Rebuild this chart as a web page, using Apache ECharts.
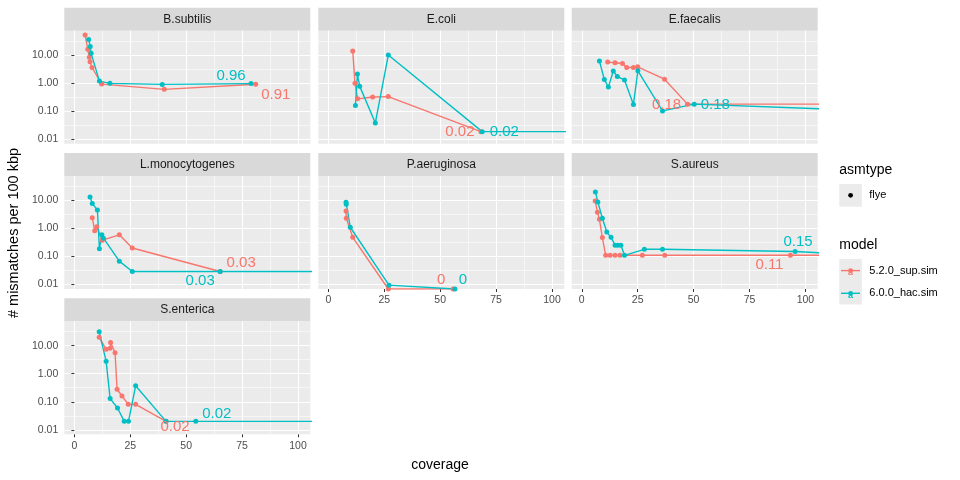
<!DOCTYPE html>
<html>
<head>
<meta charset="utf-8">
<script src="https://cdn.jsdelivr.net/npm/echarts@6/dist/echarts.min.js"></script>
<style>html,body{margin:0;padding:0;background:#fff}#main{width:960px;height:480px}</style>
</head>
<body>
<div id="main"></div>
<script>
const species = ['B.subtilis', 'E.coli', 'E.faecalis', 'L.monocytogenes', 'P.aeruginosa', 'S.aureus', 'S.enterica'];
const models = ['5.2.0_sup.sim', '6.0.0_hac.sim'];
const xTicks = [0, 25, 50, 75, 100];
const xMinor = [12.5, 37.5, 62.5, 87.5];
const yTicks = [0.01, 0.1, 1, 10];
const yMinor = [0.0316, 0.316, 3.16, 31.6];

// [coverage, mismatches per 100 kbp]
const bSubtilisSup = [[4.8, 52], [6.0, 16], [6.7, 8.3], [7.0, 5.8], [7.9, 3.6], [12.2, 0.92], [40.2, 0.6], [81.1, 0.91]];
const bSubtilisHac = [[6.4, 36], [7.1, 20], [7.5, 11.5], [11.2, 1.18], [15.9, 0.98], [39.3, 0.9], [79, 0.96]];
const eColiSup = [[10.9, 13.9], [11.9, 0.98], [13.1, 0.275], [19.8, 0.32], [26.8, 0.33], [68.2, 0.0186]];
const eColiHac = [[12.1, 0.158], [13.0, 2.1], [14.0, 0.78], [21.0, 0.038], [26.8, 10], [68.8, 0.0186], [140, 0.0186]];
const eFaecalisSup = [[11.6, 5.6], [14.9, 5.3], [18.2, 5.0], [20.1, 3.6], [23.1, 3.6], [25.0, 3.8], [37, 1.38], [47.3, 0.178], [150, 0.178]];
const eFaecalisHac = [[7.9, 6.1], [10.1, 1.35], [11.9, 0.72], [14.1, 2.7], [15.9, 1.73], [19.1, 1.28], [23.1, 0.174], [25.1, 2.75], [36.1, 0.102], [50.3, 0.178], [135, 0.1]];
const lMonoSup = [[8.0, 2.4], [9.1, 0.82], [10.0, 1.15], [12.5, 0.38], [20.1, 0.59], [25.9, 0.2], [65.2, 0.029]];
const lMonoHac = [[7.0, 13.1], [8.0, 7.8], [10.3, 4.5], [11.2, 0.19], [12.3, 0.6], [13.0, 0.45], [20.1, 0.068], [25.9, 0.029], [65.2, 0.029], [150, 0.029]];
const pAerSup = [[7.9, 4.2], [8.0, 2.3], [10.9, 0.48], [26.8, 0], [55.8, 0]];
const pAerHac = [[7.9, 8.5], [8.0, 7.3], [9.8, 1.1], [27.1, 0.0095], [56.6, 0]];
const sAureusSup = [[6.0, 9.4], [7.0, 3.8], [7.9, 2.1], [9.2, 0.47], [10.7, 0.11], [12.7, 0.11], [14.9, 0.11], [17.1, 0.11], [27.1, 0.11], [37.1, 0.11], [93.3, 0.11], [150, 0.11]];
const sAureusHac = [[6.1, 20], [7.2, 8.7], [9.2, 2.3], [11.2, 0.74], [13.1, 0.48], [14.9, 0.25], [16.1, 0.25], [17.5, 0.25], [19.1, 0.11], [28, 0.18], [36.1, 0.18], [95.4, 0.15], [120, 0.12]];
const sEntSup = [[11.1, 20], [14.2, 7.4], [16.0, 8], [16.2, 13], [18.2, 5.6], [19.1, 0.28], [21.3, 0.16], [24.1, 0.081], [27.4, 0.081], [41, 0.02]];
const sEntHac = [[11.1, 31], [14.2, 2.8], [16.0, 0.13], [19.3, 0.06], [22.3, 0.02], [24.2, 0.02], [27.4, 0.37], [41, 0.02], [54.3, 0.02], [150, 0.02]];

const supData = [bSubtilisSup, eColiSup, eFaecalisSup, lMonoSup, pAerSup, sAureusSup, sEntSup];
const hacData = [bSubtilisHac, eColiHac, eFaecalisHac, lMonoHac, pAerHac, sAureusHac, sEntHac];
// which point carries the value label
const supLabelAt = [7, 5, 7, 6, 4, 10, 9];
const hacLabelAt = [6, 5, 9, 8, 4, 11, 8];

// layout / style
const RED = '#F8766D', TEAL = '#00BFC4';
const FONT = 'Liberation Sans';
const lefts = [64.3, 318.3, 571.7];
const tops = [30.7, 176, 321.3];
const PW = 246, PH = 113, STRIP = 23;
const X_MIN = -4.5, X_MAX = 105.5;
const Y_MIN = 0.00692, Y_MAX = 73.8;
const supNudge = [[20, 11], [-21, 0], [-21, 1], [21, -9], [-12, -9], [-21, 10], [9, 5]];
const hacNudge = [[-20, -8], [22, 0], [21, 1], [-20, 9], [8, -9], [3, -10], [21, -8]];
const showY = [true, false, false, true, false, false, true];
const showX = [false, false, false, false, true, true, true];

const grids = [], xAxes = [], yAxes = [], series = [], graphics = [];

species.forEach(function (name, i) {
  const left = lefts[i % 3], top = tops[Math.floor(i / 3)];
  grids.push({ left: left, top: top, width: PW, height: PH, show: true, backgroundColor: '#EBEBEB', borderWidth: 0 });
  xAxes.push({
    type: 'value', gridIndex: i, min: X_MIN, max: X_MAX,
    axisLine: { show: false },
    axisTick: { show: showX[i], length: 3, customValues: xTicks, lineStyle: { color: '#333333', width: 1 } },
    axisLabel: { show: showX[i], customValues: xTicks, color: '#4D4D4D', fontSize: 10.5, fontFamily: FONT, margin: 6 },
    splitLine: { show: true, lineStyle: { color: '#FFFFFF', width: 1.1 } }
  });
  yAxes.push({
    type: 'log', logBase: 10, gridIndex: i, min: Y_MIN, max: Y_MAX,
    axisLine: { show: false },
    axisTick: { show: showY[i], length: 3, customValues: yTicks, lineStyle: { color: '#333333', width: 1 } },
    axisLabel: { show: showY[i], customValues: yTicks, color: '#4D4D4D', fontSize: 10.5, fontFamily: FONT, margin: 6,
      formatter: function (v) { return Number(v).toFixed(2); } },
    splitLine: { show: true, lineStyle: { color: '#FFFFFF', width: 1.1 } }
  });
  graphics.push({ type: 'rect', shape: { x: left, y: top - STRIP, width: PW, height: STRIP }, style: { fill: '#D9D9D9' } });
  graphics.push({ type: 'text', x: left + PW / 2, y: top - STRIP / 2,
    style: { text: name, fill: '#1A1A1A', font: '12px "' + FONT + '"', align: 'center', verticalAlign: 'middle' } });
});

// minor grid lines on extra axes
species.forEach(function (name, i) {
  xAxes.push({
    type: 'value', gridIndex: i, min: X_MIN, max: X_MAX,
    axisLine: { show: false }, axisLabel: { show: false },
    axisTick: { show: false, customValues: xMinor },
    splitLine: { show: true, lineStyle: { color: '#FFFFFF', width: 0.55 } }
  });
  yAxes.push({
    type: 'log', logBase: 10, gridIndex: i, min: Y_MIN, max: Y_MAX,
    axisLine: { show: false }, axisLabel: { show: false },
    axisTick: { show: false, customValues: yMinor },
    splitLine: { show: true, lineStyle: { color: '#FFFFFF', width: 0.55 } }
  });
});

function labelText(v) { return String(Math.round(v * 100) / 100); }

function buildSeries(pts, i, color, labelAt, nudge, model) {
  return {
    name: model, type: 'line', xAxisIndex: i, yAxisIndex: i,
    symbol: 'circle', symbolSize: 5, showSymbol: true, clip: true,
    lineStyle: { color: color, width: 1.4 }, itemStyle: { color: color },
    emphasis: { disabled: true },
    data: pts.map(function (p, k) {
      // zero values sit on the panel floor, as ggplot does with -Inf on a log scale
      const item = { value: [p[0], p[1] > 0 ? p[1] : Y_MIN] };
      if (k === labelAt) {
        item.label = { show: true, position: 'inside', offset: nudge, formatter: labelText(p[1]),
          color: color, fontSize: 15, fontFamily: FONT };
      }
      return item;
    })
  };
}

species.forEach(function (name, i) {
  series.push(buildSeries(supData[i], i, RED, supLabelAt[i], supNudge[i], models[0]));
});
species.forEach(function (name, i) {
  series.push(buildSeries(hacData[i], i, TEAL, hacLabelAt[i], hacNudge[i], models[1]));
});

// axis titles
graphics.push({ type: 'text', x: 440, y: 465,
  style: { text: 'coverage', fill: '#000000', font: '14px "' + FONT + '"', align: 'center', verticalAlign: 'middle' } });
graphics.push({ type: 'text', x: 13.5, y: 233, rotation: Math.PI / 2,
  style: { text: '# mismatches per 100 kbp', fill: '#000000', font: '14.5px "' + FONT + '"', align: 'center', verticalAlign: 'middle' } });

// legends
graphics.push({ type: 'text', x: 839.3, y: 170,
  style: { text: 'asmtype', fill: '#000000', font: '14px "' + FONT + '"', align: 'left', verticalAlign: 'middle' } });
graphics.push({ type: 'rect', shape: { x: 839.3, y: 184, width: 22.5, height: 22.7 }, style: { fill: '#EBEBEB' } });
graphics.push({ type: 'circle', shape: { cx: 850.6, cy: 195.3, r: 2.4 }, style: { fill: '#000000' } });
graphics.push({ type: 'text', x: 869.3, y: 195.3,
  style: { text: 'flye', fill: '#000000', font: '11px "' + FONT + '"', align: 'left', verticalAlign: 'middle' } });
graphics.push({ type: 'text', x: 839.3, y: 245,
  style: { text: 'model', fill: '#000000', font: '14px "' + FONT + '"', align: 'left', verticalAlign: 'middle' } });
graphics.push({ type: 'rect', shape: { x: 839.3, y: 259, width: 22.5, height: 45.4 }, style: { fill: '#EBEBEB' } });
[[RED, 270.6], [TEAL, 293.3]].forEach(function (k, j) {
  graphics.push({ type: 'line', shape: { x1: 841, y1: k[1], x2: 860, y2: k[1] }, style: { stroke: k[0], lineWidth: 1.4 } });
  graphics.push({ type: 'circle', shape: { cx: 850.6, cy: k[1], r: 2.4 }, style: { fill: k[0] } });
  graphics.push({ type: 'text', x: 850.6, y: k[1] + 2,
    style: { text: 'a', fill: k[0], font: 'bold 9px "' + FONT + '"', align: 'center', verticalAlign: 'middle' } });
  graphics.push({ type: 'text', x: 869.3, y: k[1],
    style: { text: models[j], fill: '#000000', font: '11px "' + FONT + '"', align: 'left', verticalAlign: 'middle' } });
});

const chart = echarts.init(document.getElementById('main'), null, { renderer: 'canvas' });
chart.setOption({
  animation: false,
  backgroundColor: '#FFFFFF',
  textStyle: { fontFamily: FONT },
  grid: grids,
  xAxis: xAxes,
  yAxis: yAxes,
  series: series,
  graphic: graphics
});
</script>
</body>
</html>
